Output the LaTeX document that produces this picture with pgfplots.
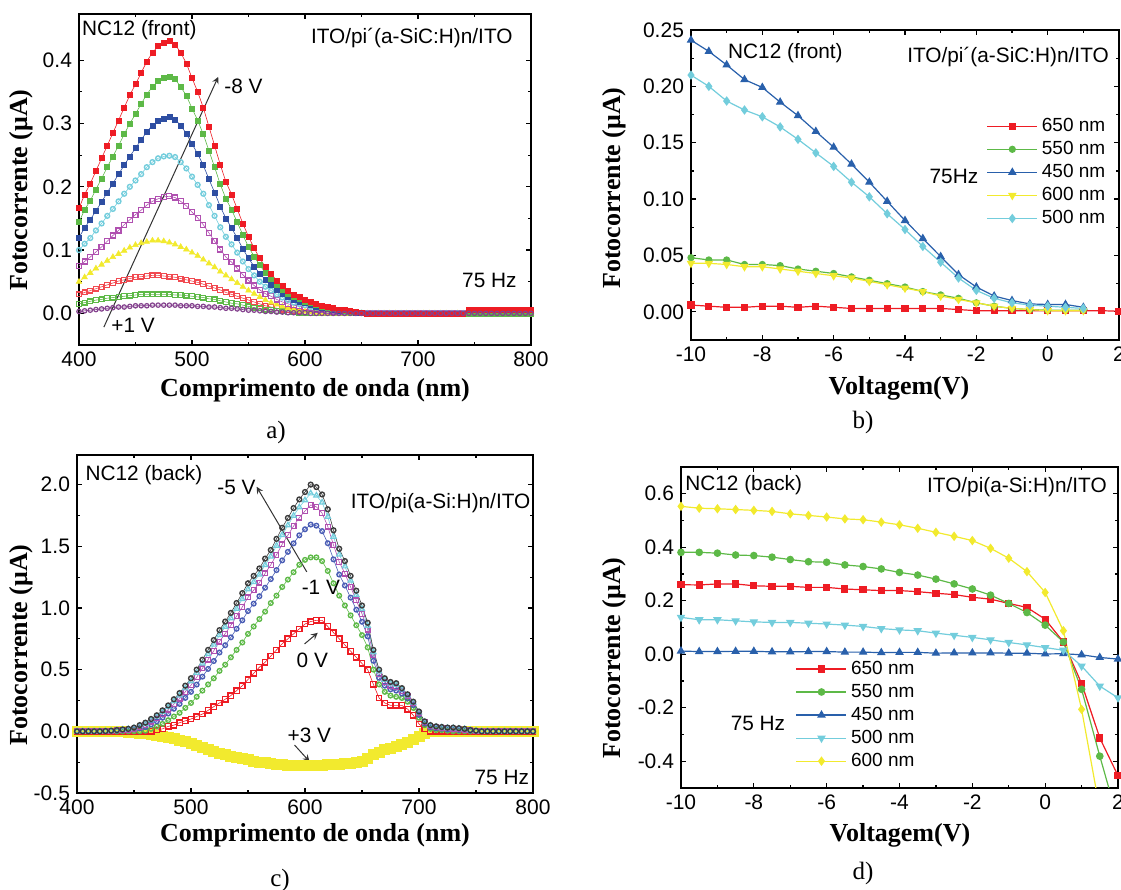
\documentclass[border=0pt]{standalone}
\usepackage{fontspec}
\setmainfont{Liberation Serif}
\newfontfamily\arial{Liberation Sans}
\usepackage{pgfplots}
\usepackage{pgfplotstable}
\pgfplotsset{compat=1.18}
\definecolor{cR}{HTML}{EE1C24}
\definecolor{cG}{HTML}{5DB947}
\definecolor{cB}{HTML}{2E4EA2}
\definecolor{cC}{HTML}{73CDDC}
\definecolor{cM}{HTML}{B050B0}
\definecolor{cY}{HTML}{F2EA2E}
\definecolor{cP}{HTML}{84428E}
\definecolor{cK}{HTML}{3C3C3C}
\definecolor{cBc}{HTML}{4A5DB5}

% panel a: photocurrent spectra, front
\pgfplotstableread{
nm r g b c m y ro go p
400 .166 .144 .120 .100 .075 .050 .030 .015 .003
405 .188 .164 .135 .110 .082 .057 .033 .017 .004
410 .205 .178 .148 .119 .089 .064 .036 .019 .005
415 .225 .196 .162 .131 .097 .071 .039 .021 .006
420 .245 .213 .176 .142 .105 .077 .042 .022 .007
425 .265 .231 .191 .154 .114 .083 .045 .024 .008
430 .285 .248 .205 .165 .123 .089 .048 .025 .009
435 .305 .265 .220 .177 .131 .094 .051 .026 .010
440 .325 .283 .234 .189 .140 .099 .053 .027 .010
445 .345 .300 .248 .200 .148 .104 .055 .028 .011
450 .362 .315 .261 .210 .156 .108 .057 .029 .012
455 .380 .331 .274 .220 .163 .111 .058 .030 .012
460 .398 .346 .287 .231 .171 .113 .059 .030 .012
465 .412 .358 .297 .239 .177 .115 .060 .030 .013
470 .422 .367 .304 .245 .181 .115 .060 .030 .013
475 .428 .372 .308 .248 .184 .114 .059 .030 .013
480 .430 .374 .310 .249 .185 .112 .058 .030 .013
485 .425 .370 .306 .247 .183 .109 .057 .029 .013
490 .412 .358 .297 .239 .177 .105 .055 .029 .012
495 .395 .344 .284 .229 .170 .101 .053 .028 .012
500 .372 .324 .268 .216 .160 .096 .051 .027 .012
505 .350 .305 .252 .203 .151 .091 .049 .026 .011
510 .325 .283 .234 .189 .140 .085 .046 .025 .011
515 .295 .257 .212 .171 .127 .079 .043 .023 .010
520 .265 .231 .191 .154 .114 .073 .040 .022 .010
525 .235 .204 .169 .136 .101 .066 .037 .020 .009
530 .208 .181 .150 .121 .089 .060 .033 .018 .008
535 .188 .164 .135 .109 .081 .054 .030 .016 .008
540 .165 .144 .119 .096 .071 .048 .027 .015 .007
545 .142 .124 .102 .082 .061 .042 .024 .013 .006
550 .121 .105 .087 .070 .052 .036 .021 .011 .005
555 .103 .090 .074 .060 .044 .031 .018 .009 .005
560 .087 .076 .063 .050 .037 .026 .015 .008 .004
565 .073 .064 .053 .042 .031 .021 .012 .006 .003
570 .062 .054 .045 .036 .027 .017 .010 .005 .003
575 .052 .045 .037 .030 .022 .014 .008 .004 .002
580 .043 .037 .031 .025 .018 .011 .006 .003 .002
585 .036 .031 .026 .021 .015 .008 .005 .002 .001
590 .030 .026 .022 .017 .013 .006 .004 .002 .001
595 .026 .023 .019 .015 .011 .004 .003 .001 .001
600 .022 .019 .016 .013 .009 .003 .002 .001 .001
605 .018 .016 .013 .010 .008 .002 .001 0 0
610 .015 .013 .011 .009 .006 .001 .001 0 0
615 .012 .010 .009 .007 .005 0 0 0 0
620 .010 .009 .007 .006 .004 0 0 0 0
625 .008 .007 .006 .005 .003 0 0 0 0
630 .006 .005 .004 .003 .003 0 0 0 0
635 .005 .004 .004 .003 .002 0 0 0 0
640 .004 .003 .003 .002 .002 0 0 0 0
645 .002 .002 .001 .001 .001 0 0 0 0
650 .001 .001 .001 .001 0 0 0 0 0
655 0 0 0 0 0 0 0 0 0
660 0 0 0 0 0 0 0 0 0
665 0 0 0 0 0 0 0 0 0
670 0 0 0 0 0 0 0 0 0
675 0 0 0 0 0 0 0 0 0
680 0 0 0 0 0 0 0 0 0
685 0 0 0 0 0 0 0 0 0
690 0 0 0 0 0 0 0 0 0
695 0 0 0 0 0 0 0 0 0
700 0 0 0 0 0 0 0 0 0
705 0 0 0 0 0 0 0 0 0
710 0 0 0 0 0 0 0 0 0
715 0 0 0 0 0 0 0 0 0
720 0 0 0 0 0 0 0 0 0
725 0 0 0 0 0 0 0 0 0
730 0 0 0 0 0 0 0 0 0
735 0 0 0 0 0 0 0 0 0
740 0 0 0 0 0 0 0 0 0
745 .005 0 0 0 0 0 0 0 0
750 .005 0 0 0 0 0 0 0 0
755 .005 0 0 0 0 0 0 0 0
760 .005 0 0 0 0 0 0 0 0
765 .005 0 0 0 0 0 0 0 0
770 .005 0 0 0 0 0 0 0 0
775 .005 0 0 0 0 0 0 0 0
780 .005 0 0 0 0 0 0 0 0
785 .005 0 0 0 0 0 0 0 0
790 .005 0 0 0 0 0 0 0 0
795 .005 0 0 0 0 0 0 0 0
800 .005 0 0 0 0 0 0 0 0
}\tabA

% panel b: photocurrent vs voltage, front
\pgfplotstableread{
v r g b y c
-10 .006 .048 .241 .043 .210
-9.5 .005 .046 .231 .043 .200
-9 .004 .046 .219 .042 .187
-8.5 .004 .042 .206 .040 .179
-8 .005 .042 .199 .040 .173
-7.5 .005 .041 .186 .038 .164
-7 .004 .038 .174 .036 .153
-6.5 .005 .036 .160 .034 .141
-6 .004 .034 .146 .032 .129
-5.5 .003 .031 .131 .030 .115
-5 .003 .028 .115 .027 .102
-4.5 .003 .025 .098 .024 .087
-4 .003 .022 .081 .021 .073
-3.5 .003 .018 .065 .018 .058
-3 .003 .015 .049 .014 .044
-2.5 .002 .012 .033 .011 .030
-2 .001 .008 .022 .008 .019
-1.5 .001 .005 .014 .005 .012
-1 .001 .003 .010 .003 .008
-0.5 .001 .002 .007 .002 .006
0 .001 .0015 .0065 .001 .005
0.5 .001 .0015 .0065 .001 .004
1 .001 .0015 .004 .001 .003
1.5 .001 nan nan nan nan
2 .0005 nan nan nan nan
}\tabB

% panel c: photocurrent spectra, back
\pgfplotstableread{
nm k c m u g r y
400 0 0 0 0 0 0 0
405 0 0 0 0 0 0 0
410 0 0 0 0 0 0 0
415 0 0 0 0 0 0 0
420 0 0 0 0 0 0 0
425 .002 .002 .001 .001 0 0 0
430 .005 .004 .004 .002 0 0 0
435 .010 .009 .007 .005 0 0 0
440 .015 .013 .011 .007 0 0 0
445 .020 .018 .014 .009 0 0 -.005
450 .030 .026 .022 .014 0 0 -.010
455 .050 .044 .036 .023 0 0 -.015
460 .070 .062 .052 .034 .005 0 -.020
465 .100 .090 .078 .056 .020 0 -.025
470 .130 .119 .105 .081 .040 .010 -.030
475 .170 .157 .139 .110 .060 .020 -.040
480 .210 .196 .176 .144 .090 .040 -.050
485 .260 .243 .221 .183 .120 .050 -.060
490 .310 .291 .265 .222 .150 .070 -.070
495 .370 .348 .320 .271 .190 .085 -.085
500 .430 .406 .374 .320 .230 .100 -.100
505 .500 .474 .438 .379 .280 .120 -.115
510 .580 .550 .510 .443 .330 .140 -.130
515 .660 .626 .582 .506 .380 .170 -.145
520 .740 .703 .653 .570 .430 .200 -.160
525 .820 .780 .728 .639 .490 .230 -.175
530 .890 .848 .792 .698 .540 .260 -.190
535 .960 .917 .859 .762 .600 .290 -.200
540 1.040 .994 .934 .831 .660 .330 -.210
545 1.120 1.072 1.008 .900 .720 .370 -.220
550 1.200 1.151 1.085 .975 .790 .420 -.230
555 1.260 1.211 1.145 1.035 .850 .470 -.240
560 1.320 1.271 1.205 1.095 .910 .520 -.250
565 1.400 1.348 1.280 1.164 .970 .560 -.255
570 1.470 1.418 1.350 1.234 1.040 .610 -.260
575 1.560 1.505 1.431 1.307 1.100 .660 -.265
580 1.650 1.592 1.516 1.386 1.170 .710 -.270
585 1.730 1.670 1.590 1.455 1.230 .750 -.275
590 1.810 1.748 1.664 1.524 1.290 .790 -.278
595 1.880 1.816 1.732 1.589 1.350 .830 -.280
600 1.940 1.874 1.786 1.638 1.390 .870 -.280
605 2.000 1.929 1.835 1.676 1.410 .890 -.280
610 1.980 1.912 1.820 1.667 1.410 .900 -.278
615 1.920 1.855 1.769 1.623 1.380 .900 -.275
620 1.800 1.740 1.660 1.525 1.300 .850 -.272
625 1.630 1.578 1.510 1.394 1.200 .800 -.270
630 1.480 1.434 1.374 1.271 1.100 .750 -.267
635 1.380 1.337 1.279 1.182 1.020 .700 -.263
640 1.260 1.222 1.170 1.084 .940 .650 -.258
645 1.140 1.106 1.062 .986 .860 .600 -.250
650 1.020 .991 .953 .888 .780 .550 -.240
655 .880 .856 .824 .770 .680 .500 -.220
660 .660 .641 .615 .572 .500 .380 -.190
665 .500 .486 .466 .434 .380 .270 -.170
670 .430 .417 .399 .370 .320 .230 -.150
675 .400 .387 .369 .340 .290 .210 -.135
680 .390 .377 .359 .330 .280 .210 -.120
685 .350 .340 .328 .306 .270 .210 -.105
690 .300 .293 .283 .267 .240 .180 -.090
695 .240 .234 .226 .213 .190 .130 -.065
700 .160 .154 .146 .133 .110 .060 -.040
705 .080 .076 .072 .064 .050 .020 -.015
710 .050 .046 .042 .034 .020 0 0
715 .040 .036 .032 .024 .010 0 0
720 .035 .032 .028 .021 .010 0 0
725 .030 .027 .023 .016 .005 0 0
730 .030 .026 .022 .014 0 0 0
735 .025 .022 .018 .011 0 0 0
740 .020 .018 .014 .009 0 0 0
745 .010 .009 .007 .005 0 0 0
750 .005 .004 .004 .002 0 0 0
755 0 0 0 0 0 0 0
760 0 0 0 0 0 0 0
765 0 0 0 0 0 0 0
770 0 0 0 0 0 0 0
775 0 0 0 0 0 0 0
780 0 0 0 0 0 0 0
785 0 0 0 0 0 0 0
790 0 0 0 0 0 0 0
795 0 0 0 0 0 0 0
800 0 0 0 0 0 0 0
}\tabC

% panel d: photocurrent vs voltage, back
\pgfplotstableread{
v r g b c y
-10 .260 .381 .012 .138 .553
-9.5 .259 .381 .010 .129 .546
-9 .263 .378 .010 .129 .544
-8.5 .263 .371 .011 .125 .541
-8 .256 .369 .011 .121 .538
-7.5 .254 .363 .009 .119 .534
-7 .254 .354 .009 .119 .525
-6.5 .250 .346 .010 .116 .519
-6 .250 .344 .010 .113 .513
-5.5 .244 .334 .008 .109 .506
-5 .241 .328 .008 .104 .503
-4.5 .238 .319 .006 .096 .494
-4 .238 .306 .007 .091 .484
-3.5 .234 .296 .007 .088 .471
-3 .228 .281 .004 .079 .456
-2.5 .223 .263 .005 .071 .441
-2 .213 .244 .005 .063 .425
-1.5 .206 .221 .005 .054 .396
-1 .190 .190 .004 .044 .359
-0.5 .175 .156 .004 .035 .309
0 .131 .109 .001 .025 .231
0.5 .046 .046 .002 .015 .088
1 -.109 -.131 -.002 -.044 -.206
1.5 -.313 -.381 -.012 -.119 -.580
2 -.454 -.620 -.018 -.163 nan
}\tabD

\newcommand{\annf}{\arial\fontsize{10.4}{12}\selectfont}
\pgfplotsset{
  panel/.style={
    scale only axis, anchor=south west,
    axis line style={line width=0.8pt},
    tick style={line width=0.6pt, black},
    major tick length=2.6pt, minor tick length=1.5pt,
    tick align=inside,
    minor x tick num=1, minor y tick num=1,
    tick label style={font=\arial\fontsize{10.5}{12}\selectfont},
    /pgf/number format/assume math mode=true,
    label style={font=\fontsize{13}{15}\selectfont\bfseries},
    xlabel style={anchor=center},
    ylabel style={anchor=center},
    unbounded coords=discard,
  },
  legimg/.style={legend image code/.code={
    \draw[mark repeat=2,mark phase=2,##1] plot coordinates {(0pt,0pt) (12.5pt,0pt) (25pt,0pt)};}},
}
\tikzset{ann/.style={->, >=stealth, line width=0.5pt, black!80}}

\begin{document}
\begin{tikzpicture}
\useasboundingbox (0,0) rectangle (560.5pt,445pt);

% ---------------- panel a ----------------
\begin{axis}[panel, at={(39.5pt,272.5pt)}, width=226pt, height=165.5pt,
  xmin=400, xmax=800, ymin=-0.05, ymax=0.473,
  xtick={400,500,...,800}, ytick={0,0.1,...,0.41},
  yticklabel style={/pgf/number format/.cd,fixed,fixed zerofill,precision=1},
  xlabel={Comprimento de onda (nm)}, ylabel={Fotocorrente (μA)},
  xlabel style={at={(axis description cs:0.522,-0.136)}},
  ylabel style={at={(axis description cs:-0.127,0.468)}},
  clip=false]
\addplot[cR!80, line width=0.3pt, mark=square, mark size=1.2pt, mark options={solid,line width=0.6pt}] table[x=nm,y=ro]{\tabA};
\addplot[cG, line width=0.3pt, mark=square, mark size=1.2pt, mark options={solid,line width=0.6pt}] table[x=nm,y=go]{\tabA};
\addplot[cY, line width=0.3pt, mark=triangle*, mark size=1.6pt, mark options={solid}] table[x=nm,y=y]{\tabA};
\addplot[cM, line width=0.3pt, mark=square, mark size=1.25pt, mark options={solid,line width=0.6pt}] table[x=nm,y=m]{\tabA};
\addplot[cC, line width=0.3pt, mark=o, mark size=1.2pt, mark options={solid,line width=0.7pt}] table[x=nm,y=c]{\tabA};
\addplot[cB, line width=0.3pt, mark=square*, mark size=1.25pt, mark options={solid}] table[x=nm,y=b]{\tabA};
\addplot[cG, line width=0.3pt, mark=square*, mark size=1.25pt, mark options={solid}] table[x=nm,y=g]{\tabA};
\addplot[cR, line width=0.3pt, mark=square*, mark size=1.25pt, mark options={solid}] table[x=nm,y=r]{\tabA};
\addplot[cP, line width=0.3pt, mark=o, mark size=1.1pt, mark options={solid,line width=0.6pt}] table[x=nm,y=p]{\tabA};
\draw[ann] (rel axis cs:0.055,0.054) -- (rel axis cs:0.308,0.81);
\node[anchor=west, font=\annf, inner sep=0pt] at (rel axis cs:0.321,0.782) {-8 V};
\node[anchor=west, font=\annf, inner sep=0pt] at (rel axis cs:0.071,0.06) {+1 V};
\node[anchor=west, font=\annf, inner sep=0pt, fill=white] at (rel axis cs:0.006,0.952) {NC12 (front)};
\node[anchor=east, font=\annf, inner sep=0pt] at (rel axis cs:0.96,0.927) {ITO/pi´(a-SiC:H)n/ITO};
\node[anchor=east, font=\annf, inner sep=0pt] at (rel axis cs:0.969,0.196) {75 Hz};
\end{axis}

% ---------------- panel b ----------------
\begin{axis}[panel, legimg, at={(345.5pt,275pt)}, width=214pt, height=155pt,
  xmin=-10, xmax=2, ymin=-0.025, ymax=0.25,
  xtick={-10,-8,...,2}, ytick={0,0.05,...,0.26},
  yticklabel style={/pgf/number format/.cd,fixed,fixed zerofill,precision=2},
  xlabel={Voltagem(V)}, ylabel={Fotocorrente (μA)},
  xlabel style={at={(axis description cs:0.486,-0.155)}},
  ylabel style={at={(axis description cs:-0.18,0.49)}},
  legend style={at={(rel axis cs:0.69,0.73)}, anchor=north west, draw=none, fill=none,
    font=\arial\fontsize{9.5}{11}\selectfont, row sep=-0.6pt, inner sep=0pt},
  legend cell align=left]
\addplot[cR, line width=0.6pt, mark=square*, mark size=1.5pt] table[x=v,y=r]{\tabB};
\addlegendentry{650 nm}
\addplot[cG, line width=0.6pt, mark=*, mark size=1.5pt] table[x=v,y=g]{\tabB};
\addlegendentry{550 nm}
\addplot[cB!90!cyan, line width=0.6pt, mark=triangle*, mark size=1.9pt] table[x=v,y=b]{\tabB};
\addlegendentry{450 nm}
\addplot[cY, line width=0.6pt, mark=triangle*, mark size=1.9pt, mark options={rotate=180}] table[x=v,y=y]{\tabB};
\addlegendentry{600 nm}
\addplot[cC, line width=0.6pt, mark=diamond*, mark size=1.9pt] table[x=v,y=c]{\tabB};
\addlegendentry{500 nm}
\node[anchor=west, font=\annf, inner sep=0pt] at (rel axis cs:0.086,0.926) {NC12 (front)};
\node[anchor=east, font=\annf, inner sep=0pt] at (rel axis cs:0.977,0.913) {ITO/pi´(a-SiC:H)n/ITO};
\node[anchor=east, font=\annf, inner sep=0pt] at (rel axis cs:0.672,0.529) {75Hz};
\end{axis}

% ---------------- panel c ----------------
\begin{axis}[panel, at={(38.5pt,48.5pt)}, width=228pt, height=169pt,
  xmin=400, xmax=800, ymin=-0.5, ymax=2.24,
  xtick={400,500,...,800}, ytick={-0.5,0,...,2.01},
  yticklabel style={/pgf/number format/.cd,fixed,fixed zerofill,precision=1},
  xlabel={Comprimento de onda (nm)}, ylabel={Fotocorrente (μA)},
  xlabel style={at={(axis description cs:0.522,-0.124)}},
  ylabel style={at={(axis description cs:-0.122,0.438)}}]
\addplot[cY, only marks, mark=square*, mark size=2.5pt] table[x=nm,y=y]{\tabC};
\addplot[cR, line width=0.3pt, mark=square, mark size=1.35pt, mark options={solid,line width=0.7pt}] table[x=nm,y=r]{\tabC};
\addplot[cG, line width=0.3pt, mark=o, mark size=1.15pt, mark options={solid,line width=0.7pt}] table[x=nm,y=g]{\tabC};
\addplot[cBc, line width=0.3pt, mark=o, mark size=1.15pt, mark options={solid,line width=0.7pt}] table[x=nm,y=u]{\tabC};
\addplot[cM, line width=0.3pt, mark=square, mark size=1.2pt, mark options={solid,line width=0.6pt}] table[x=nm,y=m]{\tabC};
\addplot[cC, line width=0.3pt, mark=triangle, mark size=1.5pt, mark options={solid,line width=0.6pt}] table[x=nm,y=c]{\tabC};
\addplot[cK, line width=0.3pt, mark=o, mark size=1.2pt, mark options={solid,line width=0.7pt}] table[x=nm,y=k]{\tabC};
\draw[ann] (rel axis cs:0.504,0.654) -- (rel axis cs:0.394,0.906);
\draw[ann] (rel axis cs:0.499,0.441) -- (rel axis cs:0.528,0.474);
\draw[ann] (rel axis cs:0.477,0.142) -- (rel axis cs:0.510,0.093);
\node[anchor=west, font=\annf, inner sep=0pt] at (rel axis cs:0.018,0.941) {NC12 (back)};
\node[anchor=west, font=\annf, inner sep=0pt] at (rel axis cs:0.307,0.905) {-5 V};
\node[anchor=east, font=\annf, inner sep=0pt] at (rel axis cs:0.995,0.858) {ITO/pi(a-Si:H)n/ITO};
\node[anchor=west, font=\annf, inner sep=0pt] at (rel axis cs:0.492,0.609) {-1 V};
\node[anchor=west, font=\annf, inner sep=0pt] at (rel axis cs:0.481,0.393) {0 V};
\node[anchor=west, font=\annf, inner sep=0pt] at (rel axis cs:0.461,0.172) {+3 V};
\node[anchor=east, font=\annf, inner sep=0pt] at (rel axis cs:0.992,0.047) {75 Hz};
\end{axis}

% ---------------- panel d ----------------
\begin{axis}[panel, legimg, at={(340.5pt,51pt)}, width=218.5pt, height=160.5pt,
  xmin=-10, xmax=2, ymin=-0.5, ymax=0.7,
  xtick={-10,-8,...,2}, ytick={-0.4,-0.2,...,0.61},
  yticklabel style={/pgf/number format/.cd,fixed,fixed zerofill,precision=1},
  xlabel={Voltagem(V)}, ylabel={Fotocorrente (μA)},
  xlabel style={at={(axis description cs:0.501,-0.146)}},
  ylabel style={at={(axis description cs:-0.153,0.405)}},
  legend style={at={(rel axis cs:0.262,0.41)}, anchor=north west, draw=none, fill=none,
    font=\arial\fontsize{9.5}{11}\selectfont, row sep=-0.6pt, inner sep=0pt},
  legend cell align=left]
\addplot[cR, line width=0.6pt, mark=square*, mark size=1.5pt] table[x=v,y=r]{\tabD};
\addlegendentry{650 nm}
\addplot[cG, line width=0.6pt, mark=*, mark size=1.6pt] table[x=v,y=g]{\tabD};
\addlegendentry{550 nm}
\addplot[cB!90!cyan, line width=0.6pt, mark=triangle*, mark size=1.9pt] table[x=v,y=b]{\tabD};
\addlegendentry{450 nm}
\addplot[cC, line width=0.6pt, mark=triangle*, mark size=1.9pt, mark options={rotate=180}] table[x=v,y=c]{\tabD};
\addlegendentry{500 nm}
\addplot[cY, line width=0.6pt, mark=diamond*, mark size=1.9pt] table[x=v,y=y]{\tabD};
\addlegendentry{600 nm}
\node[anchor=west, font=\annf, inner sep=0pt] at (rel axis cs:0.009,0.944) {NC12 (back)};
\node[anchor=east, font=\annf, inner sep=0pt] at (rel axis cs:0.975,0.938) {ITO/pi(a-Si:H)n/ITO};
\node[anchor=west, font=\annf, inner sep=0pt] at (rel axis cs:0.113,0.202) {75 Hz};
\end{axis}

% sub-figure labels
\node[font=\fontsize{12.5}{14}\selectfont] at (138pt,229pt) {a)};
\node[font=\fontsize{12.5}{14}\selectfont] at (431.5pt,234pt) {b)};
\node[font=\fontsize{12.5}{14}\selectfont] at (140pt,5pt) {c)};
\node[font=\fontsize{12.5}{14}\selectfont] at (431.5pt,8.5pt) {d)};
\end{tikzpicture}
\end{document}
